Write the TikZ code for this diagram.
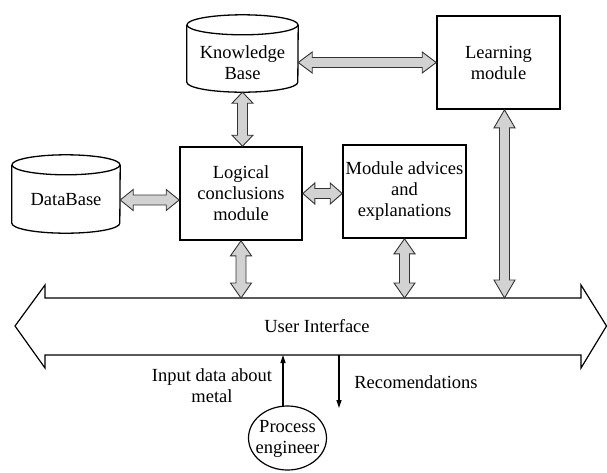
\documentclass[tikz,border=0pt]{standalone}
\usepackage{fontspec}
\setmainfont{Liberation Serif}
\usetikzlibrary{calc,arrows.meta}
\definecolor{argray}{HTML}{D2D2D2}
\tikzset{
  boxnode/.style={draw, line width=1.6pt, inner sep=0pt, align=center},
  cylframe/.style={inner sep=0pt},
  cylline/.style={line width=1.3pt},
  txt/.style={align=center, inner sep=0pt},
  blockar/.style={fill=argray, draw=black!80, line width=0.9pt, line join=miter},
  thinar/.style={line width=1.2pt, -{Triangle[length=8pt,width=5pt]}},
}
\newcommand\barrow[3][13]{%
  \coordinate (ba1) at #2;
  \coordinate (ba2) at #3;
  \coordinate (bh1) at ($(ba1)!#1pt!(ba2)$);
  \coordinate (bh2) at ($(ba2)!#1pt!(ba1)$);
  \filldraw[blockar] (ba1)
   -- ($(bh1)!10.5pt!90:(ba2)$) -- ($(bh1)!5pt!90:(ba2)$)
   -- ($(bh2)!5pt!-90:(ba1)$) -- ($(bh2)!10.5pt!-90:(ba1)$)
   -- (ba2)
   -- ($(bh2)!10.5pt!90:(ba1)$) -- ($(bh2)!5pt!90:(ba1)$)
   -- ($(bh1)!5pt!-90:(ba2)$) -- ($(bh1)!10.5pt!-90:(ba2)$) -- cycle;}
\newcommand\cylinderat[2]{% #1 node name, #2 half width
  \draw[cylline] ($(#1.north)+(0,10)$) ellipse [x radius=#2pt, y radius=10pt];
  \draw[cylline] ($(#1.north west)+(0,10)$) -- ($(#1.south west)+(0,-10)$)
     arc[start angle=180, end angle=360, x radius=#2pt, y radius=10pt]
     -- ($(#1.north east)+(0,10)$);}
\begin{document}
\begin{tikzpicture}[x=1pt, y=-1pt, font=\fontsize{18.5}{21}\selectfont]
\useasboundingbox (0,0) rectangle (607,472);
% cylinders
\node[cylframe, minimum width=111pt, minimum height=77pt] (kb) at (242.5,53.5) {};
\cylinderat{kb}{55.5}
\node[txt] (kbt) at (242.5,63) {Knowledge\\Base};
\node[cylframe, minimum width=108pt, minimum height=78pt] (db) at (66,194) {};
\cylinderat{db}{54}
\node[txt] (dbt) at (66,200) {DataBase};
% boxes
\node[boxnode, minimum width=123pt, minimum height=93pt] (lm) at (498.5,62.5) {Learning\\module};
\node[boxnode, minimum width=122pt, minimum height=93pt] (lcm) at (241,193.5) {Logical\\conclusions\\module};
\node[boxnode, minimum width=123pt, minimum height=93pt] (ma) at (404.5,191.5) {Module advices\\and\\explanations};
% user interface
\draw[line width=1.2pt, line join=miter] (15,326) -- (45,285) -- (45,298) -- (581,298) -- (581,285) -- (606.5,326)
  -- (581,368) -- (581,355) -- (45,355) -- (45,368) -- cycle;
\node[txt] (ui) at (317,326) {User Interface};
\coordinate (uitop) at (317,298);
\coordinate (uibot) at (317,355);
% process engineer
\draw[line width=1.2pt] (287.5,438) ellipse [x radius=39pt, y radius=32pt];
\node[txt, minimum width=78pt, minimum height=64pt] (pe) at (287.5,438) {};
\node[txt] (pet) at (287.5,439) {Process\\engineer};
% block arrows
\barrow[14]{(kb.east |- lm.west)}{(lm.west)}
\barrow[11]{(kb.south)}{(kb.south |- lcm.north)}
\barrow{(db.east |- dbt)}{(lcm.west |- dbt)}
\barrow[12]{(lcm.east)}{(ma.west |- lcm.east)}
\barrow[15]{(lcm.south)}{(lcm.south |- uitop)}
\barrow[15]{(ma.south)}{(ma.south |- uitop)}
\barrow[18]{([xshift=6pt]lm.south)}{([xshift=6pt]lm.south |- uitop)}
% thin arrows
\draw[thinar] ([xshift=-4.5pt]pe.north) -- ([xshift=-4.5pt]pe.north |- uibot);
\coordinate (recend) at (339,408);
\draw[thinar] (recend |- uibot) -- (recend);
\node[txt] (inp) at (212,386) {Input data about\\metal};
\node[txt] (rec) at (416,382) {Recomendations};
\end{tikzpicture}
\end{document}
